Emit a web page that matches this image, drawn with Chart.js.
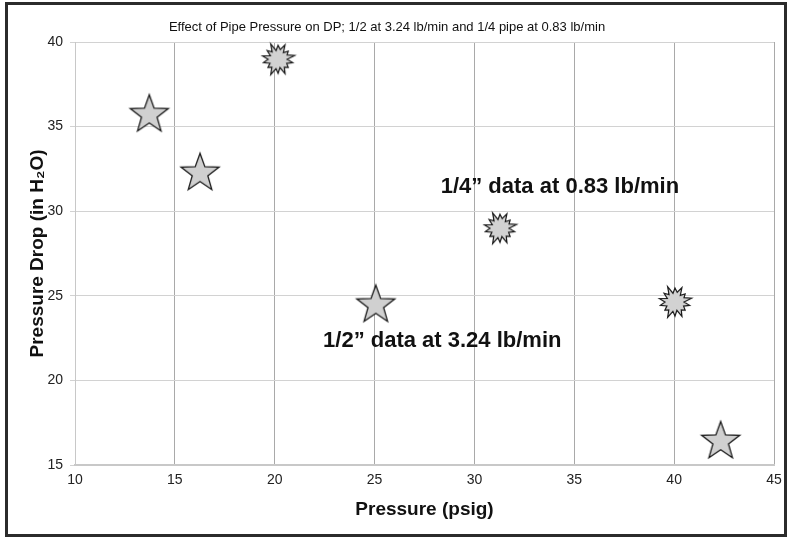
<!DOCTYPE html>
<html>
<head>
<meta charset="utf-8">
<script src="https://cdn.jsdelivr.net/npm/chart.js@4/dist/chart.umd.min.js"></script>
<style>
  html, body { margin: 0; padding: 0; background: #fff; }
  #wrap { position: relative; width: 788px; height: 539px; }
  canvas { display: block; }
</style>
</head>
<body>
<div id="wrap"><canvas id="c" width="788" height="539"></canvas></div>
<script>
// ---- data ----
const chartTitle = "Effect of Pipe Pressure on DP; 1/2 at 3.24 lb/min and 1/4 pipe at 0.83 lb/min";
const xAxisTitle = "Pressure (psig)";
const yAxisTitle = "Pressure Drop (in H\u2082O)";
const halfInchPressure = [13.72, 16.26, 25.06, 42.33];
const halfInchDrop     = [35.79, 32.33, 24.54, 16.48];
const quarterInchPressure = [20.17, 31.28, 40.04];
const quarterInchDrop     = [38.98, 28.99, 24.63];
const xTicks = [10, 15, 20, 25, 30, 35, 40, 45];
const yTicks = [15, 20, 25, 30, 35, 40];
const noteLabels = ["1/4\u201D data at 0.83 lb/min", "1/2\u201D data at 3.24 lb/min"];
const noteX = [28.31, 22.42];
const noteY = [31.08, 21.97];

// ---- marker images ----
function makeStar() {
  const R = 20, r = 8.2, s = 44;
  const cv = document.createElement('canvas'); cv.width = s; cv.height = s;
  const g = cv.getContext('2d');
  g.beginPath();
  for (let i = 0; i < 10; i++) {
    const rad = i % 2 === 0 ? R : r;
    const a = -Math.PI / 2 + i * Math.PI / 5;
    const px = s / 2 + rad * Math.cos(a), py = s / 2 + 1.5 + rad * Math.sin(a);
    if (i === 0) g.moveTo(px, py); else g.lineTo(px, py);
  }
  g.closePath();
  g.fillStyle = '#d0d0d0'; g.fill();
  g.lineWidth = 1.3; g.strokeStyle = '#1a1a1a'; g.lineJoin = 'miter'; g.stroke();
  return cv;
}
function makeBurst() {
  const s = 40;
  const outer = [17, 14, 16, 13, 17, 15, 13, 16, 14, 17, 13, 15, 16, 14];
  const inner = [9, 10, 8.5, 10, 9, 9.5, 10, 8.5, 9.5, 10, 9, 10, 8.5, 9.5];
  const cv = document.createElement('canvas'); cv.width = s; cv.height = s;
  const g = cv.getContext('2d');
  g.beginPath();
  const n = outer.length;
  for (let i = 0; i < n * 2; i++) {
    const k = Math.floor(i / 2);
    const rad = i % 2 === 0 ? outer[k] : inner[k];
    const a = -Math.PI / 2 - 0.45 + i * Math.PI / n;
    const px = s / 2 + rad * Math.cos(a), py = s / 2 + rad * Math.sin(a);
    if (i === 0) g.moveTo(px, py); else g.lineTo(px, py);
  }
  g.closePath();
  g.fillStyle = '#d2d2d2'; g.fill();
  g.lineWidth = 1.2; g.strokeStyle = '#1a1a1a'; g.stroke();
  return cv;
}
const starImg = makeStar();
const burstImg = makeBurst();

const toPoints = (xs, ys) => xs.map((x, i) => ({ x: x, y: ys[i] }));

const notesPlugin = {
  id: 'notes',
  afterDatasetsDraw(chart) {
    const { ctx, scales } = chart;
    ctx.save();
    ctx.font = 'bold 22px "Liberation Sans", Arial, sans-serif';
    ctx.fillStyle = '#111';
    ctx.textAlign = 'left';
    ctx.textBaseline = 'alphabetic';
    noteLabels.forEach((t, i) => {
      ctx.fillText(t, scales.x.getPixelForValue(noteX[i]), scales.y.getPixelForValue(noteY[i]));
    });
    ctx.restore();
  }
};
const framePlugin = {
  id: 'frame',
  afterDraw(chart) {
    const ctx = chart.ctx;
    ctx.save();
    ctx.lineWidth = 3;
    ctx.strokeStyle = '#2b2b2b';
    ctx.strokeRect(6.5, 3.5, 779, 532);
    ctx.restore();
  }
};

new Chart(document.getElementById('c'), {
  type: 'scatter',
  data: {
    datasets: [
      { label: '1/2 in', data: toPoints(halfInchPressure, halfInchDrop), pointStyle: starImg, pointRadius: 20, clip: false },
      { label: '1/4 in', data: toPoints(quarterInchPressure, quarterInchDrop), pointStyle: burstImg, pointRadius: 17, clip: false }
    ]
  },
  options: {
    responsive: false,
    animation: false,
    events: [],
    layout: { autoPadding: false, padding: { left: 0, right: 14, top: 0, bottom: 0 } },
    plugins: {
      legend: { display: false },
      tooltip: { enabled: false },
      title: {
        display: true,
        text: chartTitle,
        color: '#111',
        font: { family: '"Liberation Sans", Arial, sans-serif', size: 13, weight: 'normal' },
        padding: { top: 20, bottom: 6.4 }
      }
    },
    scales: {
      x: {
        type: 'linear',
        min: 10, max: 45,
        afterBuildTicks: (s) => { s.ticks = xTicks.map(v => ({ value: v })); },
        afterFit: (s) => { s.height = 74; s.paddingRight = 0; s.paddingLeft = 0; },
        grid: { color: '#a9a9a9', lineWidth: 1, drawTicks: false },
        border: { color: '#c8c8c8', width: 2 },
        ticks: { color: '#222', padding: 7, font: { family: '"Liberation Sans", Arial, sans-serif', size: 14 } },
        title: {
          display: true, text: xAxisTitle, color: '#111',
          font: { family: '"Liberation Sans", Arial, sans-serif', size: 19, weight: 'bold' },
          padding: { top: 0, bottom: 17.6 }
        }
      },
      y: {
        type: 'linear',
        min: 15, max: 40,
        afterBuildTicks: (s) => { s.ticks = yTicks.map(v => ({ value: v })); },
        afterFit: (s) => { s.width = 75; },
        grid: { color: '#d2d2d2', lineWidth: 1, tickLength: 5 },
        border: { color: '#c8c8c8', width: 1 },
        ticks: { color: '#222', padding: 7, font: { family: '"Liberation Sans", Arial, sans-serif', size: 14 } },
        title: {
          display: true, text: yAxisTitle, color: '#111',
          font: { family: '"Liberation Sans", Arial, sans-serif', size: 19, weight: 'bold' },
          padding: { top: 26, bottom: 0 }
        }
      }
    }
  },
  plugins: [notesPlugin, framePlugin]
});
</script>
</body>
</html>
